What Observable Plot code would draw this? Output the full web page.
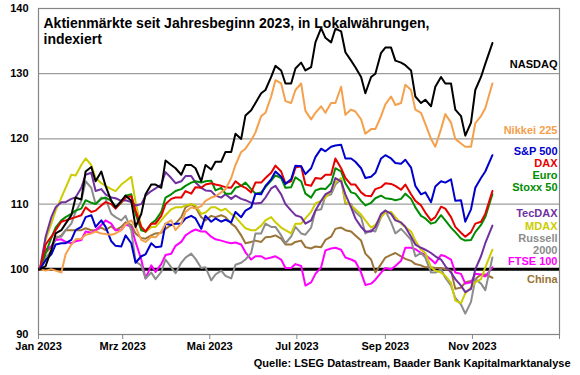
<!DOCTYPE html>
<html><head><meta charset="utf-8">
<script src="https://cdn.jsdelivr.net/npm/d3@7"></script>
<script src="https://cdn.jsdelivr.net/npm/@observablehq/plot@0.6"></script>
<style>body{margin:0;background:#fff;}</style>
</head><body><div id="chart"></div>
<script>
// Friday (weekly) observation dates
const datesWeekly = ["2023-01-02","2023-01-06","2023-01-13","2023-01-20","2023-01-27","2023-02-03","2023-02-10","2023-02-17","2023-02-24","2023-03-03","2023-03-10","2023-03-17","2023-03-24","2023-03-31","2023-04-07","2023-04-14","2023-04-21","2023-04-28","2023-05-05","2023-05-12","2023-05-19","2023-05-26","2023-06-02","2023-06-09","2023-06-16","2023-06-23","2023-06-30","2023-07-07","2023-07-14","2023-07-21","2023-07-28","2023-08-04","2023-08-11","2023-08-18","2023-08-25","2023-09-01","2023-09-08","2023-09-15","2023-09-22","2023-09-29","2023-10-06","2023-10-13","2023-10-20","2023-10-27","2023-11-03","2023-11-10","2023-11-15"];
// mid-week (Tuesday) observation dates
const datesMid = ["2023-01-10","2023-01-17","2023-01-24","2023-01-31","2023-02-07","2023-02-14","2023-02-21","2023-02-28","2023-03-07","2023-03-14","2023-03-21","2023-03-28","2023-04-04","2023-04-11","2023-04-18","2023-04-25","2023-05-02","2023-05-09","2023-05-16","2023-05-23","2023-05-30","2023-06-06","2023-06-13","2023-06-20","2023-06-27","2023-07-04","2023-07-11","2023-07-18","2023-07-25","2023-08-01","2023-08-08","2023-08-15","2023-08-22","2023-08-29","2023-09-05","2023-09-12","2023-09-19","2023-09-26","2023-10-03","2023-10-10","2023-10-17","2023-10-24","2023-10-31","2023-11-07"];

const nasdaqW = [100,100.5,105.5,107,111,115,113.5,112.8,109.5,111.3,106.5,111.5,113,116.7,115.5,116,115.5,116,116.5,118,120.8,123.6,125.5,127.5,131.2,128.5,130.8,130.5,134.8,135.5,136.9,133.3,131,127,130,134,132,131.3,126.5,126,128,128.5,124.5,120.5,127.5,131.5,134.7];
const nasdaqM = [103,106,108.3,110.7,115.7,115,110.5,110.5,110.5,108.5,113,112.5,116,114.5,116,113.5,115.3,116.5,118,120,124.4,127,129.5,130.5,128.5,131.7,131,137,134.8,136.5,132,129.5,129.5,133.2,134,131.7,130.5,125.5,125,129.5,128.5,123.5,122.5,129.5];
const nikkeiW = [100,99.8,99.8,102.3,104.6,105.3,105.8,105.4,105.5,106.9,106.5,104.2,104.9,107,106,108.8,109.3,110.5,111.2,112.3,116,118.5,121,124,129,125.8,127.5,124.3,124,124,125.5,123.7,124.2,120.8,121.5,125.3,125.2,128.3,124.5,122.3,118.8,123.8,120,118.8,122.4,124.7,128.5];
const nikkeiM = [100,99.5,103.8,104.7,105.5,105.5,105.3,106,107.5,104.5,105,105.8,107.5,107,109.5,109.7,111,111.8,114,118,119.8,123.5,126.5,128.5,125.5,128.5,123,125,125.5,128,124.5,123,121.5,123.5,126.5,125.5,127.5,124,120,121.5,122.5,119.3,118.8,123.5];
const sp500W = [100,101.4,103.8,104,106,108,106.5,106.5,103.6,105.2,101,102.3,103.4,107,107,107.8,107.8,108.2,107.8,107.6,108.8,109,111.6,112.8,115,113.1,115.9,114.6,117.2,118.1,119,117,116.5,114,114.8,117.5,116.3,116.8,112.8,111.8,112.7,113.3,110.5,107.3,112.5,115,117.5];
const sp500M = [102.3,104,104.5,106.5,108.3,107.5,104.3,103.5,104,102,104,103.5,106.8,107,108.2,106.2,107.3,107.3,107.2,108,109.5,111.5,113.8,114.2,113.8,115.8,115.5,118.5,118.8,119.1,117,115.5,114.2,117,117,116.2,115.6,111.5,110.3,113.5,113.8,110.6,109.2,114];
const daxW = [100,103.8,106,107.5,108,109.5,109,110.3,109.3,111,109,105.8,107,110,111,112,112.6,113,113,112.6,113.5,112.5,113.3,114,115.9,113.2,115.6,113,114,114.5,117,114,113,111.3,112.3,113.2,112.8,113,110.5,108.7,108,109.3,106.5,105,107,108.5,112];
const daxM = [105,107.3,107.8,108.3,108.8,109.8,110,110.3,111.2,106.5,107,108.2,110.8,111,111.6,112.5,113.2,112.8,112.5,112.8,111.8,113.3,114.8,115,113.5,115.8,112.8,113.9,114.5,115.5,113,111.8,111.2,112.6,113.1,112.2,111.5,109.8,107.5,109.6,108,105.6,105.7,107.3];
const euroW = [100,102.5,106.4,108,109,110.6,110,111,109.5,111.3,108.5,105.8,107.5,111,112,112.8,113.5,113.5,112.1,111.6,112.5,113.3,111.6,112.6,114.4,112.5,114.1,111.6,112.1,112.3,115.5,113.2,111.6,109.8,110.9,110.9,110.6,111.6,109.5,107.8,107.2,107.5,105.7,104.4,105.7,108,111.5];
const euroM = [104.8,107.5,108.5,109.3,110.2,110.8,110.5,110.2,111.5,106,107,108.8,111.5,112.3,113.3,113.3,113.6,112.5,111.6,112.8,112.3,111.8,113.6,114,112.6,113.5,111,112.4,113.2,115,111.8,110.5,110.2,111.3,110.8,110.8,110.8,108.2,107,108.3,106.4,104.7,104.5,106.8];
const tecdaxW = [100,105,109.5,110.3,111,114.5,112,111.5,110.9,110.6,109.8,111.3,112.4,114.9,113.2,114.3,113.3,112.1,111.3,111.5,111.3,110.6,110.1,111,112.8,110,108.3,107,109,111.5,114,111.5,107.8,105.8,106.5,109,107.5,106.5,103.8,103,102,100.5,98.5,96.5,100,104,106.7];
const tecdaxM = [108,110.3,110.8,112.5,114.8,112.3,111,110.5,110.3,110,112,113,114,113.5,114.3,112.5,112,111,110.8,110.8,110.2,110.2,112.4,111.5,109,108,107.5,110.5,112,113.5,109.5,106.5,105.8,108.5,108.5,107.2,105,103.3,102.5,101.5,99.5,97.5,97,102];
const mdaxW = [100,104.5,109,112.5,114.4,117,114,112.8,112,113.5,110.3,105.7,106.5,108.3,109.5,109.8,109.8,108.7,109.5,109.3,108,106.3,106,107.5,107.2,106,107,107.8,110.1,111,113.3,110.3,109.2,107.5,106.8,108.7,108,106.5,104.4,102.5,99.8,99,95.2,96.3,98,100.3,103];
const mdaxM = [107,111,114.5,116,116,113.2,112.3,113,114.2,106.5,106.5,107.5,109.2,109.5,110,108.5,109.5,109,108.5,107,106,106.7,108,106.4,105.5,107,108.8,110.5,112,114,109.8,108.4,106.4,108,108.8,107,105.8,103,100.3,99.5,97.9,94.8,97.2,98.5];
const russellW = [100,101.8,105,106,108.8,113.5,110,110.8,108,108.2,101.2,98.6,98.5,101.5,99.4,101.8,101.6,100.3,99.2,99,100.7,101.5,105.5,107,106.5,104,106.5,105.3,109,111.2,113,110,108.8,105.5,105.8,109,105.5,105.5,102,101.8,99.5,98.7,95.6,93.2,98.5,96.8,101.8];
const russellM = [102.8,105,107,110.5,112.5,111,108.5,107.5,106,100.6,99.5,99.6,100.3,101,102.4,100.2,98.3,99.8,98.6,101,102.5,105.5,106.5,105.2,105,105.5,106.4,109.2,111.5,113.8,110,108,106,108,107.2,106.2,104.5,102.5,99.5,100,97.5,94.6,95,97.8];
const ftseW = [100,103,104.5,104.2,104.3,105.8,106,107.5,106,106.9,104.2,98.6,99.6,102.2,103.6,105.2,106.1,105.8,104.6,104.2,104.1,102.6,102,101.6,102,100.2,100.8,97.5,99.3,102.9,103.3,101.8,101.2,97.6,98.4,100.2,100.5,103.3,103.1,102.2,100.9,102,99.5,97.8,99.3,98.9,100.3];
const ftseM = [103.5,104.6,104,104.5,105.6,106.8,107,106,106.5,101.5,100.6,100.8,102.4,104.2,105.8,105.8,105,104.4,104,103.8,101.5,102,101.8,101.5,100.2,100.5,98,100.3,103.2,103,101.5,99.5,97.8,99.5,100,101.3,103.3,102.5,101.5,102.2,101.5,99.3,98,99.2];
const chinaW = [100,102.5,104.7,106,106,106.3,106,106,106,107.2,105.5,104.7,105.5,106.2,107,109.5,109.5,107.5,108,108,106.5,104,104.4,104.9,105.2,103.8,104.2,103.4,103.5,104.5,106.2,106,105.2,102.4,99.5,101.8,102.5,101.6,100.8,100.3,100.2,100,97,98,98.5,99.2,98.7];
const chinaM = [103.5,105.2,106,106,106,106.4,106.6,106.5,106.8,104.8,105.2,105.6,106.8,108,110,108,108.2,108.3,107,105.2,104.2,104.2,105,104.7,103.8,104.4,103.2,103.4,105,106.4,105.8,104.4,101.5,100.8,102.2,102,101.3,100.6,100.3,100.2,99.8,97.2,98.2,99.2];

const seriesNames = ["NASDAQ","Nikkei 225","S&P 500","DAX","Euro Stoxx 50","TecDAX","MDAX","Russell 2000","FTSE 100","China"];
const seriesWeekly = [nasdaqW, nikkeiW, sp500W, daxW, euroW, tecdaxW, mdaxW, russellW, ftseW, chinaW];
const seriesMid = [nasdaqM, nikkeiM, sp500M, daxM, euroM, tecdaxM, mdaxM, russellM, ftseM, chinaM];
const seriesColors = ["#000000","#F4A04C","#0000CC","#E60000","#008C00","#7030A0","#CCCC00","#8C8C8C","#FF00FF","#9B7437"];

const labelTexts = ["NASDAQ","Nikkei 225","S&P 500","DAX","Euro","Stoxx 50","TecDAX","MDAX","Russell","2000","FTSE 100","China"];
const labelSeries = [0,1,2,3,4,4,5,6,7,7,8,9];

const yTicks = [90,100,110,120,130,140];
const gridValues = [110,120,130];
const baseValue = [100];
const xTickDates = ["2023-01-01","2023-03-01","2023-05-01","2023-07-01","2023-09-01","2023-11-01","2024-01-01"];
const monthNames = ["Jan","Feb","Mrz","Apr","Mai","Jun","Jul","Aug","Sep","Okt","Nov","Dez"];
const titleText = "Aktienmärkte seit Jahresbeginn 2023, in Lokalwährungen,\nindexiert";
const sourceText = "Quelle: LSEG Datastream, Baader Bank Kapitalmarktanalyse";

// long table, drawn in reverse legend order so NASDAQ ends on top
const rows = [];
for (let i = seriesNames.length - 1; i >= 0; i--) {
  const pts = [];
  seriesWeekly[i].forEach((v, j) => pts.push({date: new Date(datesWeekly[j]), value: v}));
  seriesMid[i].forEach((v, j) => pts.push({date: new Date(datesMid[j]), value: v}));
  pts.sort((a, b) => a.date - b.date);
  pts.forEach(p => rows.push({...p, series: seriesNames[i], color: seriesColors[i]}));
}
// annotation placement (value units)
const labelY = [131.4,121.3,118.1,116.2,114.4,112.5,108.6,106.6,104.7,102.9,101.2,98.4];
const labels = labelTexts.map((t, k) => ({text: t, y: labelY[k], color: seriesColors[labelSeries[k]]}));

const font = "'Liberation Sans', Arial, Helvetica, sans-serif";
const chart = Plot.plot({
  width: 580, height: 375,
  marginLeft: 38, marginRight: 21, marginTop: 8, marginBottom: 41,
  style: {fontFamily: font, fontSize: "11px", fontWeight: "bold", background: "#fff", color: "#000"},
  x: {type: "utc", domain: [new Date("2023-01-01"), new Date("2024-01-01")], label: null},
  y: {domain: [90, 140], label: null},
  color: {type: "identity"},
  marks: [
    Plot.ruleY(gridValues, {stroke: "#858585", strokeWidth: 1}),
    Plot.frame({stroke: "#858585", strokeWidth: 1.2}),
    Plot.ruleY(baseValue, {stroke: "#000", strokeWidth: 3}),
    Plot.line(rows, {x: "date", y: "value", z: "series", stroke: "color", strokeWidth: 2, strokeLinejoin: "round"}),
    Plot.axisY({ticks: yTicks, tickSize: 0, tickPadding: 10, label: null, fontSize: 11, fontWeight: "bold"}),
    Plot.axisX({ticks: xTickDates.map(d => new Date(d)), tickSize: 5, tickPadding: 3, stroke: "#858585", label: null,
      tickFormat: d => d.getUTCFullYear() > 2023 ? "" : monthNames[d.getUTCMonth()] + " " + d.getUTCFullYear(),
      fontSize: 11, fontWeight: "bold"}),
    Plot.text(labels, {y: "y", text: "text", fill: "color", frameAnchor: "right", textAnchor: "end", dx: -2, fontSize: 11, fontWeight: "bold"}),
    Plot.text([titleText], {frameAnchor: "top-left", textAnchor: "start", lineAnchor: "top", dx: 5, dy: 8, fontSize: 14, lineHeight: 1.15, fontWeight: "bold", fill: "#000"}),
    Plot.text([sourceText], {frameAnchor: "bottom-right", textAnchor: "end", lineAnchor: "middle", dx: 11, dy: 29, fontSize: 11, fontWeight: "bold", fill: "#000"})
  ]
});
document.getElementById("chart").appendChild(chart);
</script>
</body></html>
